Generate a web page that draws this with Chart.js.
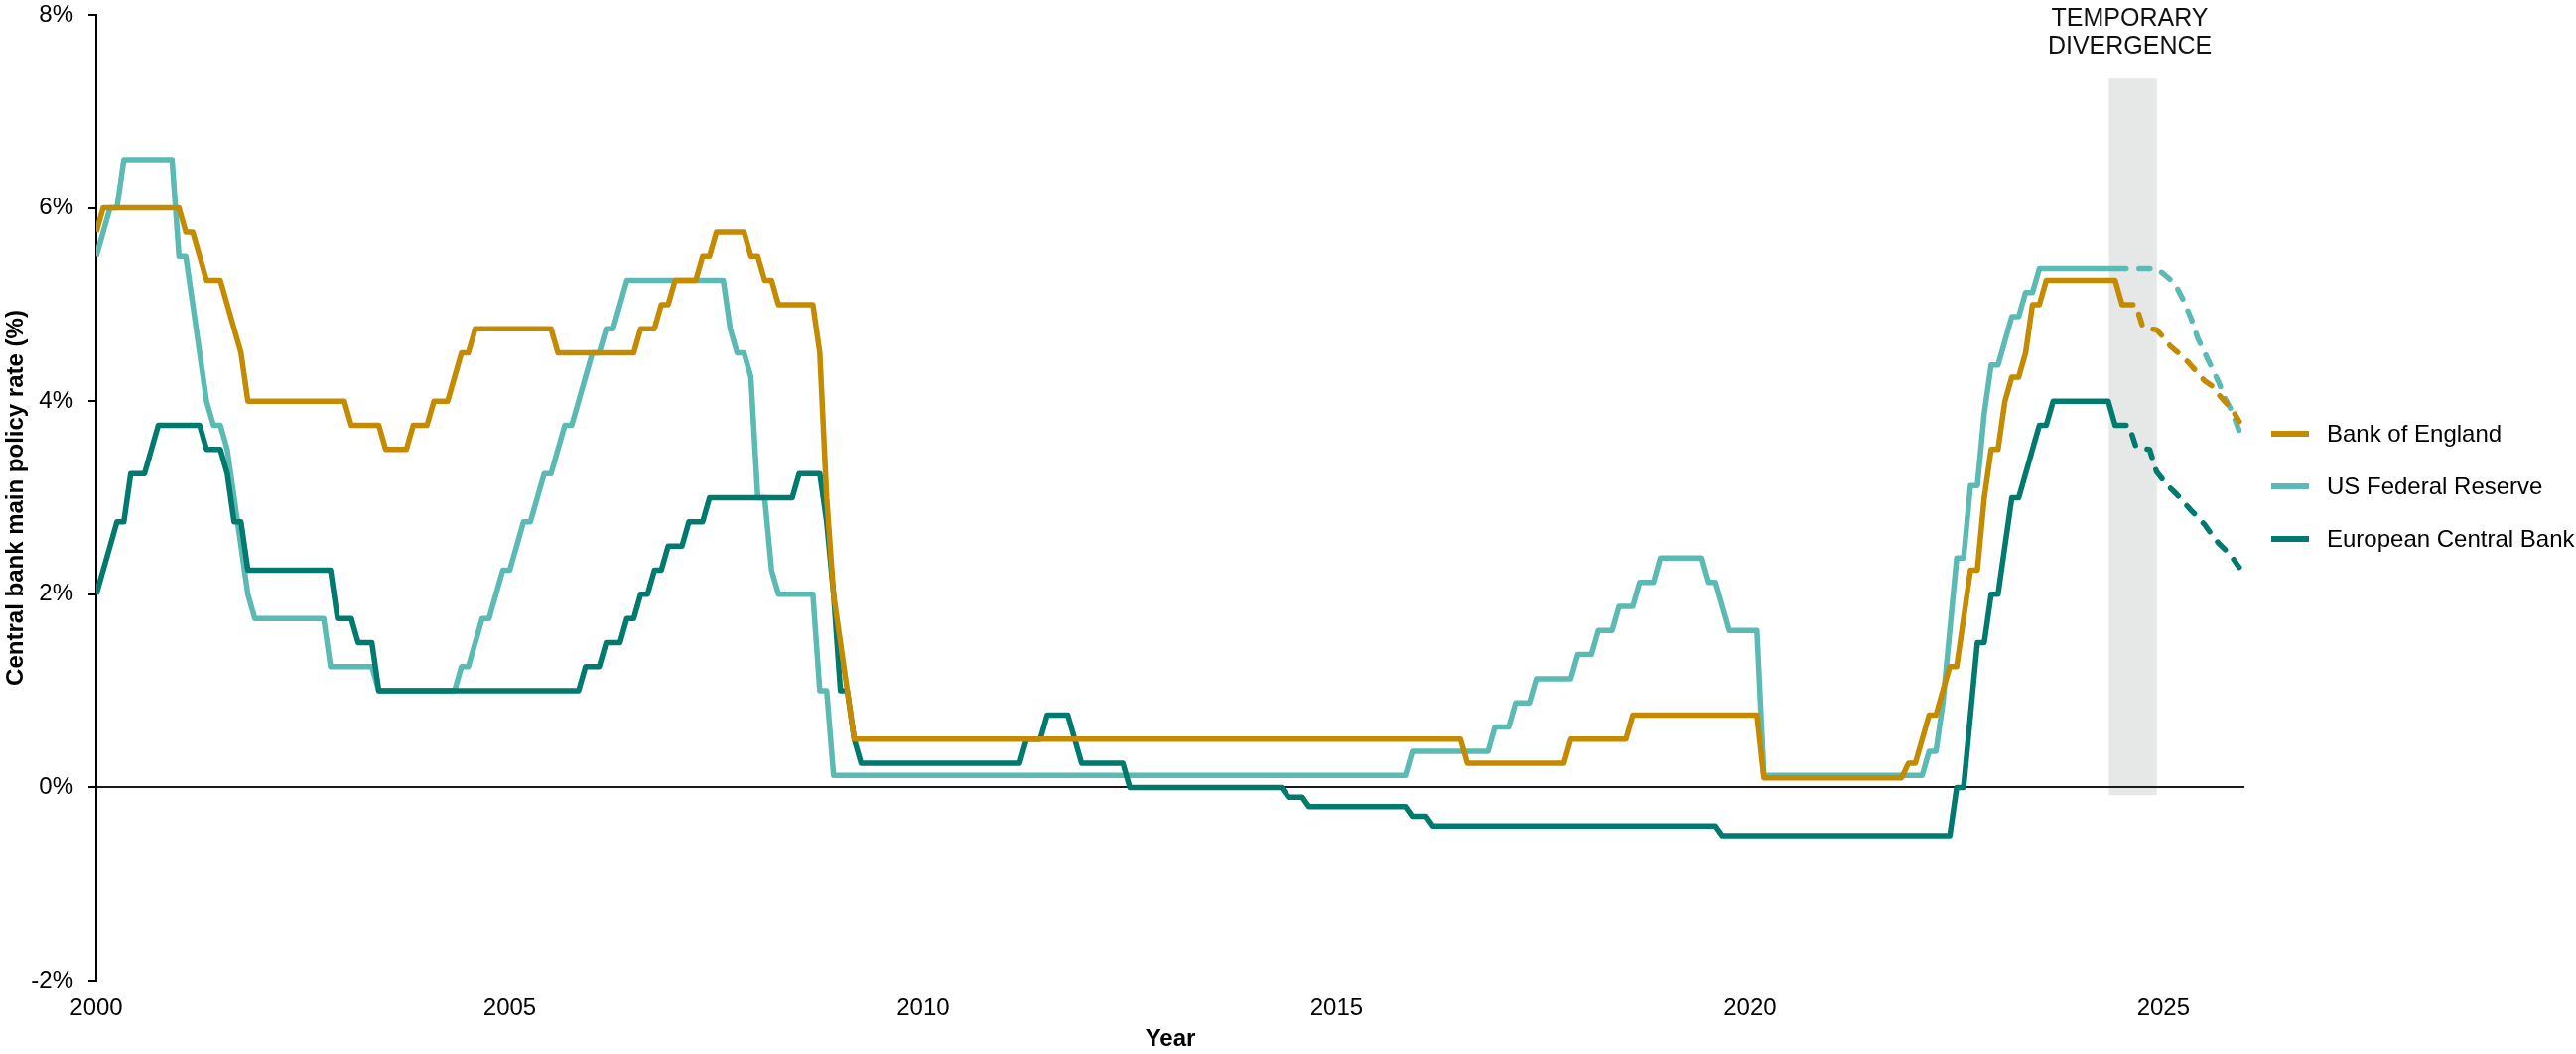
<!DOCTYPE html>
<html>
<head>
<meta charset="utf-8">
<script src="https://cdn.jsdelivr.net/npm/chart.js@4.4.1/dist/chart.umd.min.js"></script>
<style>
  html, body { margin: 0; padding: 0; background: #fff; }
  #wrap { width: 2595px; height: 1062px; }
</style>
</head>
<body>
<div id="wrap"><canvas id="rateChart" width="2595" height="1062"></canvas></div>
<script>
// policy rates, value at end of month (month, %)
const boeActual = [
  ['2000-01', 5.75], ['2000-02', 6], ['2001-01', 6], ['2001-02', 5.75], ['2001-03', 5.75], ['2001-04', 5.5],
  ['2001-05', 5.25], ['2001-07', 5.25], ['2001-08', 5], ['2001-09', 4.75], ['2001-10', 4.5], ['2001-11', 4],
  ['2003-01', 4], ['2003-02', 3.75], ['2003-06', 3.75], ['2003-07', 3.5], ['2003-10', 3.5], ['2003-11', 3.75],
  ['2004-01', 3.75], ['2004-02', 4], ['2004-04', 4], ['2004-05', 4.25], ['2004-06', 4.5], ['2004-07', 4.5],
  ['2004-08', 4.75], ['2005-07', 4.75], ['2005-08', 4.5], ['2006-07', 4.5], ['2006-08', 4.75], ['2006-10', 4.75],
  ['2006-11', 5], ['2006-12', 5], ['2007-01', 5.25], ['2007-04', 5.25], ['2007-05', 5.5], ['2007-06', 5.5],
  ['2007-07', 5.75], ['2007-11', 5.75], ['2007-12', 5.5], ['2008-01', 5.5], ['2008-02', 5.25], ['2008-03', 5.25],
  ['2008-04', 5], ['2008-09', 5], ['2008-10', 4.5], ['2008-11', 3], ['2008-12', 2], ['2009-01', 1.5],
  ['2009-02', 1], ['2009-03', 0.5], ['2016-07', 0.5], ['2016-08', 0.25], ['2017-10', 0.25], ['2017-11', 0.5],
  ['2018-07', 0.5], ['2018-08', 0.75], ['2020-02', 0.75], ['2020-03', 0.1], ['2021-11', 0.1], ['2021-12', 0.25],
  ['2022-01', 0.25], ['2022-02', 0.5], ['2022-03', 0.75], ['2022-04', 0.75], ['2022-05', 1], ['2022-06', 1.25],
  ['2022-07', 1.25], ['2022-08', 1.75], ['2022-09', 2.25], ['2022-10', 2.25], ['2022-11', 3], ['2022-12', 3.5],
  ['2023-01', 3.5], ['2023-02', 4], ['2023-03', 4.25], ['2023-04', 4.25], ['2023-05', 4.5], ['2023-06', 5],
  ['2023-07', 5], ['2023-08', 5.25], ['2024-06', 5.25], ['2024-07', 5]
];
const boeForecast = [
  ['2024-08', 5], ['2024-09', 5], ['2024-10', 4.77], ['2024-11', 4.75], ['2024-12', 4.74], ['2025-01', 4.66],
  ['2025-02', 4.57], ['2025-03', 4.51], ['2025-04', 4.45], ['2025-05', 4.37], ['2025-06', 4.29], ['2025-07', 4.21],
  ['2025-08', 4.16], ['2025-09', 4.07], ['2025-10', 3.99], ['2025-11', 3.91], ['2025-12', 3.79]
];

const fedActual = [
  ['2000-01', 5.5], ['2000-02', 5.75], ['2000-03', 6], ['2000-04', 6], ['2000-05', 6.5], ['2000-12', 6.5],
  ['2001-01', 5.5], ['2001-02', 5.5], ['2001-03', 5], ['2001-04', 4.5], ['2001-05', 4], ['2001-06', 3.75],
  ['2001-07', 3.75], ['2001-08', 3.5], ['2001-09', 3], ['2001-10', 2.5], ['2001-11', 2], ['2001-12', 1.75],
  ['2002-10', 1.75], ['2002-11', 1.25], ['2003-05', 1.25], ['2003-06', 1], ['2004-05', 1], ['2004-06', 1.25],
  ['2004-07', 1.25], ['2004-08', 1.5], ['2004-09', 1.75], ['2004-10', 1.75], ['2004-11', 2], ['2004-12', 2.25],
  ['2005-01', 2.25], ['2005-02', 2.5], ['2005-03', 2.75], ['2005-04', 2.75], ['2005-05', 3], ['2005-06', 3.25],
  ['2005-07', 3.25], ['2005-08', 3.5], ['2005-09', 3.75], ['2005-10', 3.75], ['2005-11', 4], ['2005-12', 4.25],
  ['2006-01', 4.5], ['2006-02', 4.5], ['2006-03', 4.75], ['2006-04', 4.75], ['2006-05', 5], ['2006-06', 5.25],
  ['2007-08', 5.25], ['2007-09', 4.75], ['2007-10', 4.5], ['2007-11', 4.5], ['2007-12', 4.25], ['2008-01', 3],
  ['2008-02', 3], ['2008-03', 2.25], ['2008-04', 2], ['2008-09', 2], ['2008-10', 1], ['2008-11', 1],
  ['2008-12', 0.125], ['2015-11', 0.125], ['2015-12', 0.375], ['2016-11', 0.375], ['2016-12', 0.625], ['2017-02', 0.625],
  ['2017-03', 0.875], ['2017-05', 0.875], ['2017-06', 1.125], ['2017-11', 1.125], ['2017-12', 1.375], ['2018-02', 1.375],
  ['2018-03', 1.625], ['2018-05', 1.625], ['2018-06', 1.875], ['2018-08', 1.875], ['2018-09', 2.125], ['2018-11', 2.125],
  ['2018-12', 2.375], ['2019-06', 2.375], ['2019-07', 2.125], ['2019-08', 2.125], ['2019-09', 1.875], ['2019-10', 1.625],
  ['2020-02', 1.625], ['2020-03', 0.125], ['2022-02', 0.125], ['2022-03', 0.375], ['2022-04', 0.375], ['2022-05', 0.875],
  ['2022-06', 1.625], ['2022-07', 2.375], ['2022-08', 2.375], ['2022-09', 3.125], ['2022-10', 3.125], ['2022-11', 3.875],
  ['2022-12', 4.375], ['2023-01', 4.375], ['2023-02', 4.625], ['2023-03', 4.875], ['2023-04', 4.875], ['2023-05', 5.125],
  ['2023-06', 5.125], ['2023-07', 5.375], ['2024-06', 5.375]
];
const fedForecast = [
  ['2024-12', 5.375], ['2025-01', 5.32], ['2025-02', 5.26], ['2025-03', 5.17], ['2025-04', 5.03], ['2025-05', 4.86],
  ['2025-06', 4.65], ['2025-07', 4.5], ['2025-08', 4.35], ['2025-09', 4.2], ['2025-10', 4.02], ['2025-11', 3.89],
  ['2025-12', 3.69]
];

const ecbActual = [
  ['2000-01', 2], ['2000-02', 2.25], ['2000-03', 2.5], ['2000-04', 2.75], ['2000-05', 2.75], ['2000-06', 3.25],
  ['2000-08', 3.25], ['2000-09', 3.5], ['2000-10', 3.75], ['2001-04', 3.75], ['2001-05', 3.5], ['2001-07', 3.5],
  ['2001-08', 3.25], ['2001-09', 2.75], ['2001-10', 2.75], ['2001-11', 2.25], ['2002-11', 2.25], ['2002-12', 1.75],
  ['2003-02', 1.75], ['2003-03', 1.5], ['2003-05', 1.5], ['2003-06', 1], ['2005-11', 1], ['2005-12', 1.25],
  ['2006-02', 1.25], ['2006-03', 1.5], ['2006-05', 1.5], ['2006-06', 1.75], ['2006-07', 1.75], ['2006-08', 2],
  ['2006-09', 2], ['2006-10', 2.25], ['2006-11', 2.25], ['2006-12', 2.5], ['2007-02', 2.5], ['2007-03', 2.75],
  ['2007-05', 2.75], ['2007-06', 3], ['2008-06', 3], ['2008-07', 3.25], ['2008-10', 3.25], ['2008-11', 2.75],
  ['2008-12', 2], ['2009-01', 1], ['2009-02', 1], ['2009-03', 0.5], ['2009-04', 0.25], ['2011-03', 0.25],
  ['2011-04', 0.5], ['2011-06', 0.5], ['2011-07', 0.75], ['2011-10', 0.75], ['2011-11', 0.5], ['2011-12', 0.25],
  ['2012-06', 0.25], ['2012-07', 0], ['2014-05', 0], ['2014-06', -0.1], ['2014-08', -0.1], ['2014-09', -0.2],
  ['2015-11', -0.2], ['2015-12', -0.3], ['2016-02', -0.3], ['2016-03', -0.4], ['2019-08', -0.4], ['2019-09', -0.5],
  ['2022-06', -0.5], ['2022-07', 0], ['2022-08', 0], ['2022-09', 0.75], ['2022-10', 1.5], ['2022-11', 1.5],
  ['2022-12', 2], ['2023-01', 2], ['2023-02', 2.5], ['2023-03', 3], ['2023-04', 3], ['2023-05', 3.25],
  ['2023-06', 3.5], ['2023-07', 3.75], ['2023-08', 3.75], ['2023-09', 4], ['2024-05', 4], ['2024-06', 3.75]
];
const ecbForecast = [
  ['2024-08', 3.75], ['2024-09', 3.53], ['2024-10', 3.51], ['2024-11', 3.5], ['2024-12', 3.27], ['2025-01', 3.18],
  ['2025-02', 3.1], ['2025-03', 3.03], ['2025-04', 2.95], ['2025-05', 2.87], ['2025-06', 2.8], ['2025-07', 2.72],
  ['2025-08', 2.62], ['2025-09', 2.53], ['2025-10', 2.46], ['2025-11', 2.38], ['2025-12', 2.28]
];

const xTickYears = [2000, 2005, 2010, 2015, 2020, 2025];
const yTickValues = [-2, 0, 2, 4, 6, 8];
// shaded "temporary divergence" period (years) and its height (%)
const bandYears = [2024.34, 2024.92];
const bandRates = [-0.08, 7.34];
const bandText = ['TEMPORARY', 'DIVERGENCE'];

const toYear = m => {
  const [y, mo] = m.split('-').map(Number);
  return y + (mo - 1) / 12;
};
const toPoints = rows => rows.map(([m, v]) => ({ x: toYear(m), y: v }));

const makeSeries = (label, color, actual, forecast) => {
  const forecastFrom = toYear(actual[actual.length - 1][0]) - 1e-6;
  const dashed = ctx => ctx.p0.parsed.x >= forecastFrom;
  return {
    label: label,
    data: toPoints(actual.concat(forecast)),
    borderColor: color,
    backgroundColor: color,
    borderWidth: 5.5,
    pointRadius: 0,
    tension: 0,
    borderJoinStyle: 'round',
    segment: {
      borderDash: ctx => dashed(ctx) ? [11, 13] : undefined,
      borderCapStyle: ctx => dashed(ctx) ? 'round' : 'butt'
    }
  };
};

Chart.defaults.font.family = "'Liberation Sans', Arial, sans-serif";
Chart.defaults.color = '#000';

const bandPlugin = {
  id: 'band',
  beforeDraw(chart) {
    const { ctx, scales: { x, y } } = chart;
    const x0 = x.getPixelForValue(bandYears[0]);
    const x1 = x.getPixelForValue(bandYears[1]);
    const y0 = y.getPixelForValue(bandRates[1]);
    const y1 = y.getPixelForValue(bandRates[0]);
    ctx.save();
    ctx.fillStyle = '#e6e8e8';
    ctx.fillRect(x0, y0, x1 - x0, y1 - y0);
    ctx.restore();
  }
};

const textPlugin = {
  id: 'texts',
  afterDraw(chart) {
    const { ctx, chartArea, scales: { x } } = chart;
    ctx.save();
    // band caption
    const cx = (x.getPixelForValue(bandYears[0]) + x.getPixelForValue(bandYears[1])) / 2 - 3;
    ctx.font = "25px 'Liberation Sans', Arial, sans-serif";
    ctx.fillStyle = '#111';
    ctx.textAlign = 'center';
    ctx.textBaseline = 'middle';
    bandText.forEach((t, i) => ctx.fillText(t, cx, 19 + i * 28));

    // legend on the right
    const lx = chartArea.right + 27;
    ctx.font = "24px 'Liberation Sans', Arial, sans-serif";
    ctx.textAlign = 'left';
    chart.data.datasets.forEach((ds, i) => {
      const ly = 437 + i * 53;
      ctx.strokeStyle = ds.borderColor;
      ctx.lineWidth = 6;
      ctx.beginPath();
      ctx.moveTo(lx, ly);
      ctx.lineTo(lx + 38, ly);
      ctx.stroke();
      ctx.fillStyle = '#000';
      ctx.fillText(ds.label, lx + 56, ly + 1);
    });
    ctx.restore();
  }
};

const boe = makeSeries('Bank of England', '#c48a00', boeActual, boeForecast);
const fed = makeSeries('US Federal Reserve', '#5bbab3', fedActual, fedForecast);
const ecb = makeSeries('European Central Bank', '#00796f', ecbActual, ecbForecast);
boe.order = 1;
ecb.order = 2;
fed.order = 3;

new Chart(document.getElementById('rateChart'), {
  type: 'line',
  data: { datasets: [boe, fed, ecb] },
  plugins: [bandPlugin, textPlugin],
  options: {
    responsive: false,
    animation: false,
    devicePixelRatio: 1,
    layout: { padding: { top: 15, right: 334, left: 0, bottom: 0 } },
    plugins: { legend: { display: false }, tooltip: { enabled: false } },
    scales: {
      x: {
        type: 'linear',
        min: 2000,
        max: 2025.98,
        grid: { display: false, drawTicks: false },
        border: { display: false },
        afterBuildTicks: scale => { scale.ticks = xTickYears.map(v => ({ value: v })); },
        ticks: { padding: 14, font: { size: 24 }, color: '#000', maxRotation: 0, autoSkip: false, callback: v => String(v) },
        title: { display: true, text: 'Year', font: { size: 24, weight: 'bold' }, color: '#000', padding: 0 },
        afterFit: scale => { scale.height = 74; }
      },
      y: {
        min: -2,
        max: 8,
        afterBuildTicks: scale => { scale.ticks = yTickValues.map(v => ({ value: v })); },
        ticks: { padding: 15, font: { size: 24 }, color: '#000', callback: v => v + '%' },
        grid: {
          color: c => (c.tick && c.tick.value === 0) ? '#1a1a1a' : 'rgba(0,0,0,0)',
          lineWidth: 2,
          tickColor: '#000',
          tickWidth: 2,
          tickLength: 8
        },
        border: { display: true, color: '#000', width: 2 },
        title: {
          display: true,
          text: 'Central bank main policy rate (%)',
          font: { size: 24, weight: 'bold' },
          color: '#000',
          padding: { top: 2, bottom: 0 }
        },
        afterFit: scale => {
          scale.width = 97;
          scale.paddingTop = 0;
          scale.paddingBottom = 0;
        }
      }
    }
  }
});
</script>
</body>
</html>
